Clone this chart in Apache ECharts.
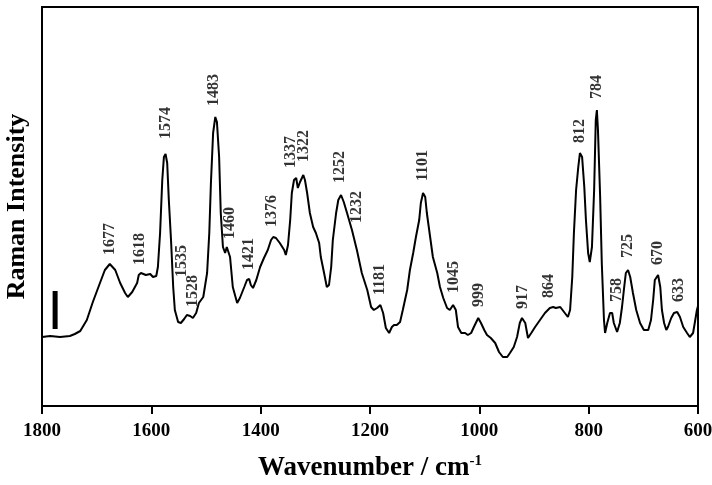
<!DOCTYPE html>
<html>
<head>
<meta charset="utf-8">
<script src="https://cdn.jsdelivr.net/npm/echarts@6/dist/echarts.min.js"></script>
<style>
html,body{margin:0;padding:0;background:#fff;}
#chart{width:712px;height:485px;}
</style>
</head>
<body>
<div id="chart"></div>
<script>
// Raman spectrum: wavenumber (cm-1) and intensity (arbitrary units)
const wavenumbers = [1800,1785,1767,1749,1740,1730,1718,1707,1694,1685,1676,1666,1657,1648,1643,1635,1626,1623,1619,1610,1602,1597,1591,1588,1584,1580,1577,1574,1571,1568,1564,1560,1557,1551,1546,1540,1535,1529,1524,1518,1513,1505,1498,1494,1491,1487,1483,1480,1476,1473,1469,1465,1462,1456,1451,1443,1438,1430,1425,1421,1418,1414,1408,1401,1394,1387,1381,1377,1372,1365,1357,1354,1350,1346,1343,1339,1335,1332,1328,1322,1319,1315,1310,1304,1299,1293,1290,1284,1279,1275,1271,1268,1262,1258,1253,1248,1242,1233,1224,1215,1205,1198,1193,1187,1181,1176,1171,1165,1160,1156,1151,1145,1140,1132,1127,1121,1116,1110,1107,1103,1099,1096,1090,1085,1077,1072,1066,1059,1054,1048,1043,1039,1033,1026,1021,1015,1010,1002,997,991,986,979,971,964,957,949,944,937,931,926,922,916,911,905,898,889,880,871,865,860,852,845,838,834,830,827,823,819,816,812,808,805,801,798,794,790,787,785,783,779,776,772,770,766,761,757,754,748,743,739,735,732,728,724,719,713,706,699,691,686,682,679,673,669,666,662,658,655,649,644,638,633,627,620,615,609,605,602,600];
const intensities = [69,70,69,70,72,75,86,104,123,136,142,136,123,113,109,114,123,131,133,131,132,129,130,139,173,226,249,252,243,206,166,119,96,84,83,87,91,90,88,93,103,109,133,173,223,273,289,284,249,193,159,153,159,149,119,103,108,119,126,127,121,118,126,139,148,156,166,169,168,163,156,151,161,186,213,226,228,218,224,231,226,213,193,179,173,163,149,133,119,121,139,166,193,206,211,204,193,176,156,133,116,99,96,98,101,93,78,73,79,81,81,84,96,116,136,153,169,186,203,213,209,193,169,149,133,119,108,98,96,101,96,79,73,73,71,73,79,88,83,76,71,68,63,54,49,49,53,59,69,83,88,83,68,73,79,86,93,98,99,98,99,94,89,96,129,173,216,239,253,249,219,186,153,144,159,216,286,296,276,209,143,86,73,83,93,93,83,74,83,99,119,133,136,129,113,96,83,76,76,86,106,126,131,119,96,83,76,79,88,93,94,89,79,73,69,73,86,96,100];

// Peak annotations: text, wavenumber where the label sits, intensity at label start
const peakLabels = ['1677','1618','1574','1535','1528','1483','1460','1421','1376','1337','1322','1252','1232','1181','1101','1045','999','917','864','812','784','758','725','670','633'];
const peakLabelWn = [1676,1621,1573,1544,1524,1485,1456,1421,1379,1345,1321,1255,1224,1182,1103,1046,1001,920,873,816,785,748,728,673,635];
const peakLabelY = [151,141,267,129,99,300,167,136,179,238,244,223,183,111,225,113,99,97,108,263,307,104,148,141,104];

// Intensity scale bar
const scaleBarWn = [1776,1776];
const scaleBarY = [77,115];

const xTicks = [1800,1600,1400,1200,1000,800,600];

const serif = '"Liberation Serif","Times New Roman",serif';
const chart = echarts.init(document.getElementById('chart'), null, {renderer:'canvas'});

const spectrum = wavenumbers.map((w,i)=>[w,intensities[i]]);
const labelData = peakLabels.map((t,i)=>({name:t,value:[peakLabelWn[i],peakLabelY[i]]}));
const barData = scaleBarWn.map((w,i)=>[w,scaleBarY[i]]);

chart.setOption({
  animation:false,
  backgroundColor:'#fff',
  grid:{left:42,right:14,top:7,bottom:79,containLabel:false,outerBoundsMode:'none',
    show:true,borderColor:'#000',borderWidth:2,backgroundColor:'transparent'},
  xAxis:{
    type:'value',inverse:true,min:600,max:1800,interval:200,
    name:'Wavenumber / cm{sup|-1}',nameLocation:'middle',nameGap:48,
    nameTextStyle:{fontFamily:serif,fontWeight:'bold',fontSize:27,color:'#000',
      rich:{sup:{fontFamily:serif,fontWeight:'bold',fontSize:15,color:'#000',verticalAlign:'top',padding:[0,0,14,0]}}},
    axisLine:{show:true,lineStyle:{color:'#000',width:2}},
    axisTick:{show:true,inside:false,length:8,lineStyle:{color:'#000',width:2}},
    axisLabel:{show:true,margin:16,fontFamily:serif,fontWeight:'bold',fontSize:19,color:'#000',
      formatter:v=>String(v),customValues:xTicks},
    splitLine:{show:false}
  },
  yAxis:{
    type:'value',min:0,max:399,
    name:'Raman Intensity',nameLocation:'middle',nameGap:12,nameRotate:90,
    nameTextStyle:{fontFamily:serif,fontWeight:'bold',fontSize:26,color:'#000'},
    axisLine:{show:true,lineStyle:{color:'#000',width:2}},
    axisTick:{show:false},axisLabel:{show:false},splitLine:{show:false}
  },
  series:[
    {type:'line',data:spectrum,showSymbol:false,symbol:'none',
      lineStyle:{color:'#000',width:2},z:3},
    {type:'line',data:barData,showSymbol:false,symbol:'none',
      lineStyle:{color:'#000',width:5,cap:'butt'},z:3},
    {type:'scatter',data:labelData,symbolSize:0,z:4,
      label:{show:true,formatter:p=>p.name,position:[0,0],rotate:90,align:'left',verticalAlign:'middle',
        fontFamily:serif,fontWeight:'bold',fontSize:16,color:'#000'}}
  ]
});
</script>
</body>
</html>
